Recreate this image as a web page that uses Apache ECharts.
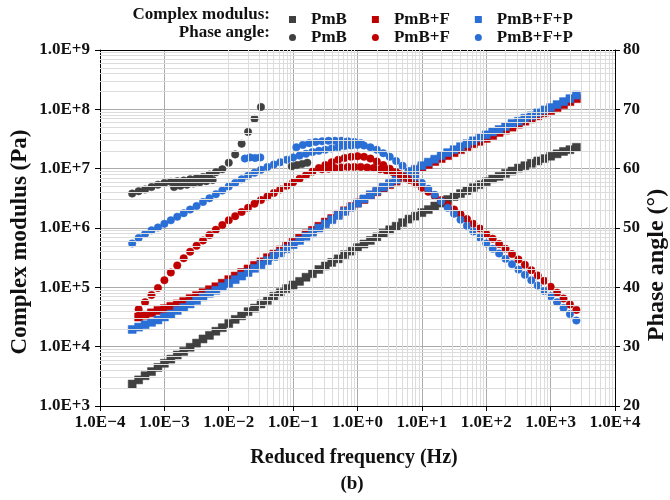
<!DOCTYPE html>
<html>
<head>
<meta charset="utf-8">
<script src="https://cdn.jsdelivr.net/npm/echarts@6/dist/echarts.min.js"></script>
<style>
  html, body { margin: 0; padding: 0; background: #fff; }
  #chart { width: 670px; height: 500px; }
</style>
</head>
<body>
<div id="chart"></div>
<script>
// Reduced frequency grid, log10(Hz)
const logFreq = [
  -3.5, -3.4, -3.3, -3.2, -3.1, -3.0, -2.9, -2.8, -2.7, -2.6,
  -2.5, -2.4, -2.3, -2.2, -2.1, -2.0, -1.9, -1.8, -1.7, -1.6,
  -1.5, -1.4, -1.3, -1.2, -1.1, -1.0, -0.9, -0.8, -0.7, -0.6,
  -0.5, -0.4, -0.3, -0.2, -0.1, 0.0, 0.1, 0.2, 0.3, 0.4,
  0.5, 0.6, 0.7, 0.8, 0.9, 1.0, 1.1, 1.2, 1.3, 1.4,
  1.5, 1.6, 1.7, 1.8, 1.9, 2.0, 2.1, 2.2, 2.3, 2.4,
  2.5, 2.6, 2.7, 2.8, 2.9, 3.0, 3.1, 3.2, 3.3, 3.4
];

// Complex modulus, log10(Pa)
const modPmB = [
  3.37, 3.44, 3.51, 3.58, 3.65, 3.72, 3.79, 3.86, 3.92, 3.99,
  4.06, 4.13, 4.19, 4.26, 4.32, 4.39, 4.46, 4.52, 4.59, 4.65,
  4.72, 4.78, 4.85, 4.91, 4.98, 5.04, 5.10, 5.17, 5.23, 5.30,
  5.36, 5.42, 5.48, 5.55, 5.61, 5.67, 5.73, 5.79, 5.85, 5.91,
  5.97, 6.03, 6.09, 6.15, 6.20, 6.26, 6.31, 6.37, 6.42, 6.48,
  6.53, 6.58, 6.63, 6.68, 6.73, 6.78, 6.83, 6.87, 6.92, 6.96,
  7.01, 7.05, 7.09, 7.13, 7.17, 7.21, 7.25, 7.29, 7.32, 7.36
];
const modPmBF = [
  null, 4.50, 4.53, 4.57, 4.61, 4.64, 4.68, 4.72, 4.76, 4.81,
  4.86, 4.91, 4.96, 5.01, 5.07, 5.13, 5.19, 5.25, 5.31, 5.37,
  5.43, 5.50, 5.56, 5.63, 5.70, 5.76, 5.83, 5.90, 5.96, 6.03,
  6.10, 6.16, 6.23, 6.29, 6.36, 6.42, 6.48, 6.55, 6.61, 6.67,
  6.73, 6.79, 6.85, 6.91, 6.97, 7.02, 7.07, 7.12, 7.17, 7.22,
  7.27, 7.32, 7.37, 7.42, 7.46, 7.51, 7.56, 7.61, 7.65, 7.70,
  7.75, 7.80, 7.84, 7.89, 7.94, 7.98, 8.03, 8.08, 8.13, 8.18
];
const modPmBFP = [
  4.29, 4.33, 4.37, 4.41, 4.45, 4.50, 4.55, 4.61, 4.66, 4.72,
  4.78, 4.84, 4.90, 4.95, 5.01, 5.07, 5.13, 5.19, 5.25, 5.32,
  5.38, 5.45, 5.52, 5.58, 5.65, 5.72, 5.79, 5.86, 5.93, 6.00,
  6.07, 6.14, 6.21, 6.28, 6.35, 6.42, 6.49, 6.56, 6.62, 6.69,
  6.75, 6.81, 6.87, 6.93, 6.99, 7.05, 7.11, 7.16, 7.22, 7.27,
  7.32, 7.37, 7.42, 7.47, 7.52, 7.57, 7.62, 7.66, 7.71, 7.76,
  7.80, 7.85, 7.89, 7.94, 7.99, 8.03, 8.08, 8.13, 8.18, 8.24
];

// Phase angle, degrees
const phasePmB = [
  55.8, 56.2, 56.5, 56.9, 57.3, 57.6, 57.8, 57.9, 58.0, 58.2,
  58.4, 58.6, 59.0, 59.4, 59.9, 61.0, 62.4, 64.2, 66.2, 68.4,
  70.4
];
const phasePmBExtraFreq = [-2.85, -2.75, -2.65, -2.55, -2.45, -2.35, -2.25, -1.02, -0.94, -0.86, -0.78];
const phasePmBExtra = [56.9, 57.1, 57.3, 57.5, 57.7, 57.9, 58.1, 60.4, 60.6, 60.8, 61.0];

const phasePmBF = [
  null, 36.3, 37.5, 38.7, 39.9, 41.2, 42.5, 43.7, 44.9, 46.0,
  47.0, 47.9, 48.8, 49.7, 50.5, 51.3, 52.0, 52.7, 53.4, 54.1,
  54.7, 55.3, 55.9, 56.5, 57.1, 57.7, 58.3, 58.9, 59.5, 60.1,
  60.6, 61.1, 61.5, 61.8, 62.0, 62.1, 62.0, 61.7, 61.2, 60.6,
  60.0, 59.4, 58.7, 58.1, 57.5, 56.8, 56.1, 55.4, 54.7, 53.9,
  53.1, 52.3, 51.5, 50.7, 49.9, 49.0, 48.2, 47.3, 46.5, 45.6,
  44.7, 43.8, 42.9, 42.0, 41.1, 40.1, 39.1, 38.1, 37.1, 36.2
];
const phasePmBFExtraFreq = [-0.55, -0.45, -0.35, -0.25, -0.15, -0.05, 0.05, 0.15, 0.25, 0.35, 0.45, 0.55, 0.65, 0.75];
const phasePmBFExtra = [59.9, 60.0, 60.1, 60.2, 60.3, 60.3, 60.3, 60.2, 60.1, 59.9, 59.7, 59.4, 59.1, 58.7];

const phasePmBFP = [
  47.4, 48.3, 49.0, 49.6, 50.1, 50.7, 51.3, 51.9, 52.5, 53.1,
  53.7, 54.4, 55.0, 55.7, 56.3, 57.0, 57.6, 58.2, 58.8, 59.3,
  59.8, 60.3, 60.7, 61.1, 61.5, 61.9, 62.2, 62.5, 62.8, 63.0,
  63.2, 63.4, 63.6, 63.8, 63.9, 64.0, 63.9, 63.6, 63.2, 62.6,
  62.0, 61.3, 60.5, 59.6, 58.6, 57.6, 56.6, 55.6, 54.5, 53.4,
  52.4, 51.4, 50.4, 49.4, 48.4, 47.4, 46.5, 45.7, 44.8, 43.9,
  43.0, 42.1, 41.2, 40.3, 39.4, 38.5, 37.5, 36.5, 35.5, 34.4
];
const phasePmBFPExtraFreq = [-1.75, -1.67, -1.59, -1.51, -0.95, -0.85, -0.75, -0.65, -0.55, -0.45, -0.35, -0.25, -0.15, -0.05, 0.05];
const phasePmBFPExtra = [61.7, 61.9, 61.8, 61.9, 63.6, 64.0, 64.3, 64.5, 64.6, 64.7, 64.7, 64.7, 64.6, 64.5, 64.3];

const materials = ['PmB', 'PmB+F', 'PmB+F+P'];
const colors = ['#404040', '#c00000', '#2a6fd6'];

// Tick exponents for the two log axes
const xExponents = [-4, -3, -2, -1, 0, 1, 2, 3, 4];
const yExponents = [3, 4, 5, 6, 7, 8, 9];

const FONT = '"Liberation Serif", "Times New Roman", serif';

function toPoints(freqs, vals, logValue) {
  const out = [];
  for (let i = 0; i < vals.length; i++) {
    if (vals[i] == null) continue;
    out.push([Math.pow(10, freqs[i]), logValue ? Math.pow(10, vals[i]) : vals[i]]);
  }
  return out;
}

function sciLabel(v) {
  const e = Math.round(Math.log10(v));
  return '1.0E' + (e < 0 ? '\u2212' + (-e) : '+' + e);
}

// minor grid lines at 2..9 within each decade
const minorX = [];
for (let n = xExponents[0]; n < xExponents[xExponents.length - 1]; n++) {
  for (let k = 2; k <= 9; k++) minorX.push(k * Math.pow(10, n));
}
const minorY = [];
for (let n = yExponents[0]; n < yExponents[yExponents.length - 1]; n++) {
  for (let k = 2; k <= 9; k++) minorY.push(k * Math.pow(10, n));
}

const modData = [
  toPoints(logFreq, modPmB, true),
  toPoints(logFreq, modPmBF, true),
  toPoints(logFreq, modPmBFP, true)
];
const phaseData = [
  toPoints(logFreq, phasePmB, false).concat(toPoints(phasePmBExtraFreq, phasePmBExtra, false)),
  toPoints(logFreq, phasePmBF, false).concat(toPoints(phasePmBFExtraFreq, phasePmBFExtra, false)),
  toPoints(logFreq, phasePmBFP, false).concat(toPoints(phasePmBFPExtraFreq, phasePmBFPExtra, false))
];

const series = [{
  type: 'line',
  data: [],
  silent: true,
  z: 0,
  markLine: {
    silent: true,
    symbol: ['none', 'none'],
    animation: false,
    label: { show: false },
    emphasis: { disabled: true },
    lineStyle: { color: '#dcdcdc', width: 1, type: 'solid' },
    data: minorX.map(v => ({ xAxis: v })).concat(minorY.map(v => ({ yAxis: v })))
  }
}];
materials.forEach((m, i) => {
  series.push({
    name: 'Complex modulus|' + m,
    type: 'scatter',
    xAxisIndex: 0, yAxisIndex: 0,
    symbol: 'rect', symbolSize: 8,
    itemStyle: { color: colors[i], borderColor: colors[i], borderWidth: 0.5, opacity: 1 },
    emphasis: { disabled: true },
    data: modData[i], z: 3
  });
});
materials.forEach((m, i) => {
  series.push({
    name: 'Phase angle|' + m,
    type: 'scatter',
    xAxisIndex: 0, yAxisIndex: 1,
    symbol: 'circle', symbolSize: 7.5,
    itemStyle: { color: colors[i], borderColor: colors[i], borderWidth: 0.5, opacity: 1 },
    emphasis: { disabled: true },
    data: phaseData[i], z: 3
  });
});

const legendBase = {
  orient: 'horizontal',
  left: 284,
  itemWidth: 7,
  itemHeight: 7,
  itemGap: 25,
  selectedMode: false,
  itemStyle: { borderWidth: 0 },
  formatter: n => n.split('|')[1],
  textStyle: { fontFamily: FONT, fontWeight: 'bold', fontSize: 17, color: '#111', padding: [0, 0, 0, 10] }
};

const chart = echarts.init(document.getElementById('chart'), null, { renderer: 'canvas' });
chart.setOption({
  animation: false,
  backgroundColor: '#ffffff',
  grid: { left: 100, right: 55, top: 50, bottom: 94, containLabel: false, outerBoundsMode: 'none' },
  legend: [
    Object.assign({}, legendBase, { top: 6, icon: 'rect', data: materials.map(m => 'Complex modulus|' + m) }),
    Object.assign({}, legendBase, { top: 24, icon: 'circle', data: materials.map(m => 'Phase angle|' + m) })
  ],
  xAxis: [{
    type: 'log', logBase: 10,
    min: Math.pow(10, xExponents[0]), max: Math.pow(10, xExponents[xExponents.length - 1]),
    splitNumber: xExponents.length - 1,
    position: 'bottom',
    axisLine: { show: true, onZero: false, lineStyle: { color: '#000', width: 1 } },
    axisTick: { show: true, inside: false, length: 5, lineStyle: { color: '#000' } },
    minorTick: { show: false },
    axisLabel: { formatter: sciLabel, fontFamily: FONT, fontWeight: 'bold', fontSize: 17, color: '#111', margin: 8 },
    splitLine: { show: true, lineStyle: { color: '#ababab', width: 1 } }
  }, {
    type: 'log', logBase: 10,
    min: Math.pow(10, xExponents[0]), max: Math.pow(10, xExponents[xExponents.length - 1]),
    position: 'top',
    axisLine: { show: true, onZero: false, lineStyle: { color: '#000', width: 1 } },
    axisTick: { show: false },
    axisLabel: { show: false },
    splitLine: { show: false }
  }],
  yAxis: [{
    type: 'log', logBase: 10,
    min: Math.pow(10, yExponents[0]), max: Math.pow(10, yExponents[yExponents.length - 1]),
    splitNumber: yExponents.length - 1,
    position: 'left',
    axisLine: { show: true, onZero: false, lineStyle: { color: '#000', width: 1 } },
    axisTick: { show: true, inside: false, length: 5, lineStyle: { color: '#000' } },
    axisLabel: { formatter: sciLabel, fontFamily: FONT, fontWeight: 'bold', fontSize: 17, color: '#111', margin: 10 },
    splitLine: { show: true, lineStyle: { color: '#ababab', width: 1 } }
  }, {
    type: 'value',
    min: 20, max: 80, interval: 10,
    position: 'right',
    axisLine: { show: true, onZero: false, lineStyle: { color: '#000', width: 1 } },
    axisTick: { show: true, inside: false, length: 5, lineStyle: { color: '#000' } },
    axisLabel: { fontFamily: FONT, fontWeight: 'bold', fontSize: 17, color: '#111', margin: 8 },
    splitLine: { show: false }
  }],
  graphic: [
    { type: 'text', right: 400, top: 6, style: { text: 'Complex modulus:', font: 'bold 17px ' + FONT, fill: '#111' } },
    { type: 'text', right: 400, top: 24, style: { text: 'Phase angle:', font: 'bold 17px ' + FONT, fill: '#111' } },
    { type: 'text', x: 20, y: 242, rotation: Math.PI / 2,
      style: { text: 'Complex modulus (Pa)', font: 'bold 23px ' + FONT, fill: '#111', align: 'center', verticalAlign: 'middle' } },
    { type: 'text', x: 657, y: 265, rotation: Math.PI / 2,
      style: { text: 'Phase angle (\u00b0)', font: 'bold 24px ' + FONT, fill: '#111', align: 'center', verticalAlign: 'middle' } },
    { type: 'text', x: 354, y: 458,
      style: { text: 'Reduced frequency (Hz)', font: 'bold 20px ' + FONT, fill: '#111', align: 'center', verticalAlign: 'middle' } },
    { type: 'text', x: 352, y: 484,
      style: { text: '(b)', font: 'bold 19px ' + FONT, fill: '#111', align: 'center', verticalAlign: 'middle' } }
  ],
  series: series
});
</script>
</body>
</html>
